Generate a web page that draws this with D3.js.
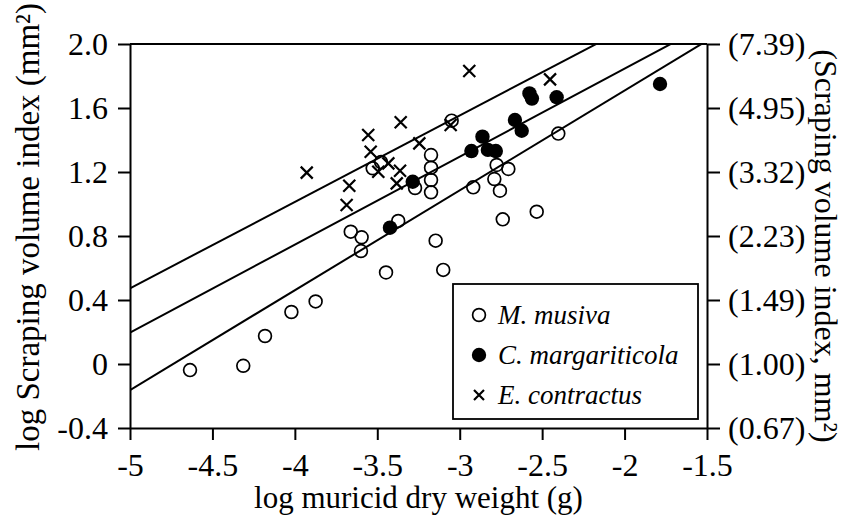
<!DOCTYPE html>
<html lang="en">
<head>
<meta charset="UTF-8">
<title>Scraping volume index vs muricid dry weight</title>
<script src="https://d3js.org/d3.v7.min.js"></script>
<style>
  body { margin: 0; background: #fff; }
  svg text { font-family: "Liberation Serif", "Times New Roman", serif; fill: #000; }
</style>
</head>
<body>
<div id="chart"></div>
<script>
// data: [log dry weight, log scraping volume index]
var musiva = [
  [-4.636, -0.038], [-4.313, -0.011], [-4.181, 0.175], [-4.021, 0.325], [-3.874, 0.391],
  [-3.661, 0.827], [-3.595, 0.792], [-3.599, 0.706], [-3.447, 0.572], [-3.373, 0.894],
  [-3.528, 1.223], [-3.477, 1.262], [-3.271, 1.100], [-3.174, 1.306], [-3.174, 1.227],
  [-3.174, 1.150], [-3.174, 1.073], [-3.146, 0.771], [-3.100, 0.588], [-3.049, 1.521],
  [-2.918, 1.104], [-2.776, 1.244], [-2.705, 1.219], [-2.790, 1.156], [-2.756, 1.083],
  [-2.739, 0.904], [-2.533, 0.952], [-2.402, 1.440]
];
var margariticola = [
  [-3.423, 0.852], [-3.285, 1.139], [-2.929, 1.331], [-2.862, 1.421], [-2.829, 1.338],
  [-2.781, 1.331], [-2.665, 1.525], [-2.624, 1.458], [-2.577, 1.691], [-2.562, 1.659],
  [-2.412, 1.667], [-1.785, 1.750]
];
var contractus = [
  [-3.928, 1.196], [-3.670, 1.114], [-3.686, 0.994], [-3.555, 1.431], [-3.540, 1.327],
  [-3.358, 1.511], [-3.245, 1.379], [-2.942, 1.831], [-2.452, 1.779], [-3.055, 1.494],
  [-3.494, 1.202], [-3.433, 1.254], [-3.362, 1.208], [-3.382, 1.129]
];

// regression lines: value at x = -5 and slope (contractus, margariticola, musiva)
var fitStart = [0.473, 0.196, -0.163];
var fitSlope = [0.540, 0.550, 0.624];

var xTicks = [-5, -4.5, -4, -3.5, -3, -2.5, -2, -1.5];
var xTickLabels = ["-5", "-4.5", "-4", "-3.5", "-3", "-2.5", "-2", "-1.5"];
var yTicks = [2.0, 1.6, 1.2, 0.8, 0.4, 0, -0.4];
var yTickLabels = ["2.0", "1.6", "1.2", "0.8", "0.4", "0", "-0.4"];
var yRightLabels = ["(7.39)", "(4.95)", "(3.32)", "(2.23)", "(1.49)", "(1.00)", "(0.67)"];
var legendNames = ["M. musiva", "C. margariticola", "E. contractus"];

var margin = { top: 44, right: 140, bottom: 97, left: 130 },
    width = 847 - margin.left - margin.right,
    height = 525 - margin.top - margin.bottom;

var svg = d3.select("#chart")
  .append("svg")
  .attr("width", 847)
  .attr("height", 525);

var g = svg.append("g")
  .attr("transform", "translate(" + margin.left + "," + margin.top + ")");

var x = d3.scaleLinear().domain([-5, -1.5]).range([0, width]);
var y = d3.scaleLinear().domain([-0.4, 2.0]).range([height, 0]);

// clip for the fit lines
g.append("clipPath").attr("id", "plotclip")
  .append("rect").attr("width", width).attr("height", height);

// axes
var xAxis = g.append("g")
  .attr("transform", "translate(0," + height + ")")
  .call(d3.axisBottom(x).tickValues(xTicks)
    .tickFormat(function (d, i) { return xTickLabels[i]; })
    .tickSize(12).tickSizeOuter(0).tickPadding(13));

var yAxis = g.append("g")
  .call(d3.axisLeft(y).tickValues(yTicks)
    .tickFormat(function (d, i) { return yTickLabels[i]; })
    .tickSize(12).tickSizeOuter(0).tickPadding(10));

var yAxisRight = g.append("g")
  .attr("transform", "translate(" + width + ",0)")
  .call(d3.axisRight(y).tickValues(yTicks)
    .tickFormat(function (d, i) { return yRightLabels[i]; })
    .tickSize(13).tickSizeOuter(0).tickPadding(8));

// top border
g.append("line")
  .attr("x1", 0).attr("x2", width)
  .attr("y1", 0).attr("y2", 0)
  .attr("stroke", "#000").attr("stroke-width", 2);

[xAxis, yAxis, yAxisRight].forEach(function (a) {
  a.selectAll("path, line").attr("stroke", "#000").attr("stroke-width", 2);
  a.selectAll("text")
    .style("font-family", "'Liberation Serif', 'Times New Roman', serif")
    .style("font-size", "32px");
});

// fit lines
g.append("g").attr("clip-path", "url(#plotclip)")
  .selectAll("line")
  .data(fitStart)
  .enter()
  .append("line")
  .attr("x1", x(-5))
  .attr("y1", function (d) { return y(d); })
  .attr("x2", x(-1.5))
  .attr("y2", function (d, i) { return y(d + fitSlope[i] * 3.5); })
  .attr("stroke", "#000")
  .attr("stroke-width", 2);

// markers
function drawCross(sel, s) {
  sel.append("path")
    .attr("d", "M" + (-s) + "," + (-s) + "L" + s + "," + s + "M" + (-s) + "," + s + "L" + s + "," + (-s))
    .attr("stroke", "#000")
    .attr("stroke-width", 2.2)
    .attr("fill", "none");
}

g.selectAll(".musiva")
  .data(musiva)
  .enter()
  .append("circle")
  .attr("class", "musiva")
  .attr("cx", function (d) { return x(d[0]); })
  .attr("cy", function (d) { return y(d[1]); })
  .attr("r", 6.4)
  .attr("fill", "none")
  .attr("stroke", "#000")
  .attr("stroke-width", 1.7);

g.selectAll(".marg")
  .data(margariticola)
  .enter()
  .append("circle")
  .attr("class", "marg")
  .attr("cx", function (d) { return x(d[0]); })
  .attr("cy", function (d) { return y(d[1]); })
  .attr("r", 7.2)
  .attr("fill", "#000");

g.selectAll(".contr")
  .data(contractus)
  .enter()
  .append("g")
  .attr("class", "contr")
  .attr("transform", function (d) { return "translate(" + x(d[0]) + "," + y(d[1]) + ")"; })
  .each(function () { drawCross(d3.select(this), 6); });

// legend
var legend = svg.append("g").attr("transform", "translate(453,284)");
legend.append("rect")
  .attr("width", 245).attr("height", 135)
  .attr("fill", "#fff")
  .attr("stroke", "#000").attr("stroke-width", 1.8);

var rows = legend.selectAll(".row")
  .data(legendNames)
  .enter()
  .append("g")
  .attr("class", "row")
  .attr("transform", function (d, i) { return "translate(26," + (31 + i * 40) + ")"; });

rows.filter(function (d, i) { return i === 0; })
  .append("circle").attr("r", 6.4).attr("fill", "none")
  .attr("stroke", "#000").attr("stroke-width", 1.7);
rows.filter(function (d, i) { return i === 1; })
  .append("circle").attr("r", 7.2).attr("fill", "#000");
rows.filter(function (d, i) { return i === 2; })
  .each(function () { drawCross(d3.select(this), 5); });

rows.append("text")
  .attr("x", 19)
  .attr("y", 9)
  .style("font-size", "27px")
  .style("font-style", "italic")
  .text(function (d) { return d; });

// axis titles
svg.append("text")
  .attr("x", margin.left + width / 2)
  .attr("y", 508)
  .attr("text-anchor", "middle")
  .style("font-size", "31px")
  .text("log muricid dry weight (g)");

svg.append("text")
  .attr("transform", "translate(39,227) rotate(-90)")
  .attr("text-anchor", "middle")
  .style("font-size", "33px")
  .text("log Scraping volume index (mm\u00B2)");

svg.append("text")
  .attr("transform", "translate(815,246) rotate(90)")
  .attr("text-anchor", "middle")
  .style("font-size", "32px")
  .text("(Scraping volume index, mm\u00B2)");
</script>
</body>
</html>
